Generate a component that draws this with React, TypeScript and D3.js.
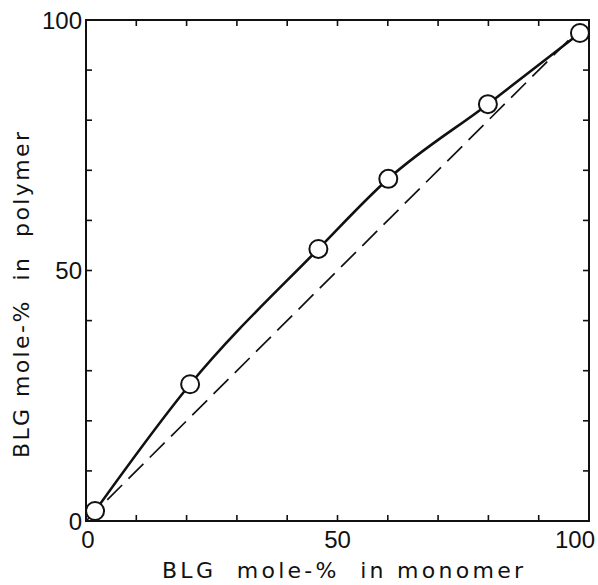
import React from "react";
import * as d3 from "d3";

const monomerPct = [1.8, 20.7, 46.2, 60.1, 79.9, 98.2];
const polymerPct = [2.0, 27.3, 54.3, 68.3, 83.2, 97.4];
const diagonal = [0, 96.5];
const xTickLabels = ["0", "50", "100"];
const yTickLabels = ["0", "50", "100"];
const minorTicks = [10, 20, 30, 40, 50, 60, 70, 80, 90];

const W = 598, H = 585;
const L = 86, R = 589, T = 20, B = 521;
const FONT = "'Liberation Sans', Arial, sans-serif";
const TFONT = "'DejaVu Sans', sans-serif";

export default function App() {
  const x = d3.scaleLinear().domain([0, 100]).range([L, R]);
  const y = d3.scaleLinear().domain([0, 100]).range([B, T]);
  const pts = monomerPct.map((m, i) => [m, polymerPct[i]] as [number, number]);
  const line = d3
    .line<[number, number]>()
    .x((d) => x(d[0]))
    .y((d) => y(d[1]))
    .curve(d3.curveMonotoneX);
  const tl = 6;
  return (
    <svg width={W} height={H} style={{ position: "absolute", left: 0, top: 0, background: "#fff" }}>
      <rect x={0} y={0} width={W} height={H} fill="#fff" />
      <line
        x1={x(diagonal[0])}
        y1={y(diagonal[0])}
        x2={x(diagonal[1])}
        y2={y(diagonal[1])}
        stroke="#111"
        strokeWidth={1.7}
        strokeDasharray="21 9"
      />
      <path d={line(pts) || ""} fill="none" stroke="#111" strokeWidth={2.6} />
      <rect x={L} y={T} width={R - L} height={B - T} fill="none" stroke="#111" strokeWidth={2} />
      {minorTicks.map((v) => (
        <g key={v} stroke="#111" strokeWidth={1.6}>
          <line x1={x(v)} x2={x(v)} y1={B} y2={B - tl} />
          <line x1={x(v)} x2={x(v)} y1={T} y2={T + tl} />
          <line y1={y(v)} y2={y(v)} x1={L} x2={L + tl} />
          <line y1={y(v)} y2={y(v)} x1={R} x2={R - tl} />
        </g>
      ))}
      {pts.map((d, i) => (
        <circle key={i} cx={x(d[0])} cy={y(d[1])} r={9} fill="#fff" stroke="#111" strokeWidth={2} />
      ))}
      <g fontFamily={FONT} fontSize={24} fill="#111">
        {yTickLabels.map((t) => (
          <text key={"y" + t} x={L - 4} y={y(+t)} dy="0.36em" textAnchor="end">
            {t}
          </text>
        ))}
        {xTickLabels.map((t) => (
          <text key={"x" + t} x={x(+t) + (t === "100" ? -14 : t === "0" ? 2 : 0)} y={B + 27} textAnchor="middle">
            {t}
          </text>
        ))}
      </g>
      <text
        x={162}
        y={578}
        fontFamily={TFONT}
        fontSize={22}
        fill="#111"
        textLength={361}
        lengthAdjust="spacing"
        xmlSpace="preserve"
        style={{ whiteSpace: "pre" }}
      >
        {"BLG  mole-%  in monomer"}
      </text>
      <text
        transform={`translate(29,458) rotate(-90)`}
        fontFamily={TFONT}
        fontSize={22}
        fill="#111"
        textLength={326}
        lengthAdjust="spacing"
        xmlSpace="preserve"
        style={{ whiteSpace: "pre" }}
      >
        {"BLG mole-%  in  polymer"}
      </text>
    </svg>
  );
}
